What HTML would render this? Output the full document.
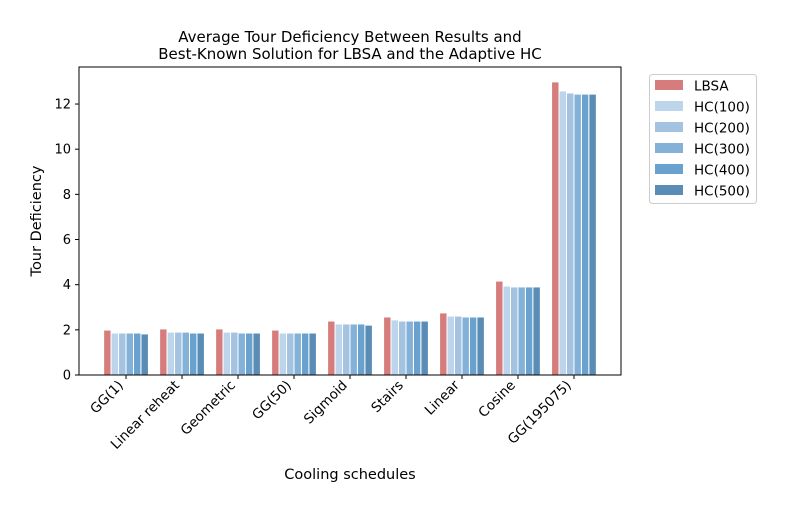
<!DOCTYPE html>
<html><head><meta charset="utf-8"><style>
body{margin:0;background:#fff;font-family:"DejaVu Sans","Liberation Sans",sans-serif}
</style></head><body>
<svg id="chart" width="786" height="511" xmlns="http://www.w3.org/2000/svg" font-family="DejaVu Sans, Liberation Sans, sans-serif">
<rect width="786" height="511" fill="#fff"/>
<text x="350" y="42" text-anchor="middle" font-size="15">Average Tour Deficiency Between Results and</text>
<text x="350" y="59" text-anchor="middle" font-size="15">Best-Known Solution for LBSA and the Adaptive HC</text>
<g id="bars"></g>
<g id="axes"></g>
<rect x="79" y="67" width="542" height="308" fill="none" stroke="#000" stroke-width="1"/>
<text transform="translate(41,221) rotate(-90)" text-anchor="middle" font-size="14.5">Tour Deficiency</text>
<text x="350" y="479" text-anchor="middle" font-size="14.5">Cooling schedules</text>
<g id="legend"></g>
</svg>
<script>
const categories=["GG(1)","Linear reheat","Geometric","GG(50)","Sigmoid","Stairs","Linear","Cosine","GG(195075)"];
const seriesNames=["LBSA","HC(100)","HC(200)","HC(300)","HC(400)","HC(500)"];
const lbsa=[1.99,2.04,2.04,1.99,2.39,2.57,2.75,4.16,12.98];
const hc100=[1.86,1.90,1.90,1.86,2.26,2.44,2.61,3.94,12.58];
const hc200=[1.86,1.90,1.90,1.86,2.26,2.39,2.61,3.90,12.49];
const hc300=[1.86,1.90,1.86,1.86,2.26,2.39,2.57,3.90,12.44];
const hc400=[1.86,1.86,1.86,1.86,2.26,2.39,2.57,3.90,12.44];
const hc500=[1.82,1.86,1.86,1.86,2.21,2.39,2.57,3.90,12.44];
const yTicks=[0,2,4,6,8,10,12];
const series=[lbsa,hc100,hc200,hc300,hc400,hc500];
const colors=["#d77c7c","#bdd5ea","#a3c3e0","#84b1d8","#6aa2cf","#5a8db6"];
const NS="http://www.w3.org/2000/svg";
const X0=79,X1=621,Y0=375,Y1=67,xmin=-0.84,xmax=8.84,ymax=13.64;
const xs=v=>X0+(v-xmin)/(xmax-xmin)*(X1-X0);
const ys=v=>Y0-v/ymax*(Y0-Y1);
function mk(t,a,p){const e=document.createElementNS(NS,t);for(const k in a)e.setAttribute(k,a[k]);p.appendChild(e);return e;}
const bars=document.getElementById('bars'),axes=document.getElementById('axes'),leg=document.getElementById('legend');
const bw=0.8/6;
series.forEach((s,si)=>{s.forEach((v,i)=>{
 const x=xs(i-0.4+si*bw),w=xs(bw)-xs(0);
 const r=mk('rect',{x:x,y:ys(v),width:w,height:ys(0)-ys(v),fill:colors[si],stroke:'#fff','stroke-width':1},bars);
 
 
});});
yTicks.forEach(t=>{
 const y=ys(t);
 const l=mk('line',{x1:X0-4,x2:X0,y1:y,y2:y,stroke:'#000'},axes);
 
 
 const tx=mk('text',{x:X0-8,y:y+4.5,'text-anchor':'end','font-size':13},axes);
 tx.textContent=t;
 
 
});
categories.forEach((c,i)=>{
 const x=xs(i);
 const l=mk('line',{x1:x,x2:x,y1:Y0,y2:Y0+4,stroke:'#000'},axes);
 
 
 const tx=mk('text',{transform:`translate(${x-2},${Y0+11}) rotate(-45)`,'text-anchor':'end','font-size':13.5},axes);
 tx.textContent=c;
 
 
});
const lb=mk('rect',{x:649.5,y:74.5,width:107,height:129,rx:3,fill:'#fff',stroke:'#ccc'},leg);


seriesNames.forEach((n,i)=>{
 const y=80+i*21;
 const r=mk('rect',{x:655,y:y,width:28,height:10,fill:colors[i]},leg);
 
 
 const t=mk('text',{x:694,y:y+10.5,'font-size':13.5},leg);
 t.textContent=n;
 
 
});
</script>
</body></html>
